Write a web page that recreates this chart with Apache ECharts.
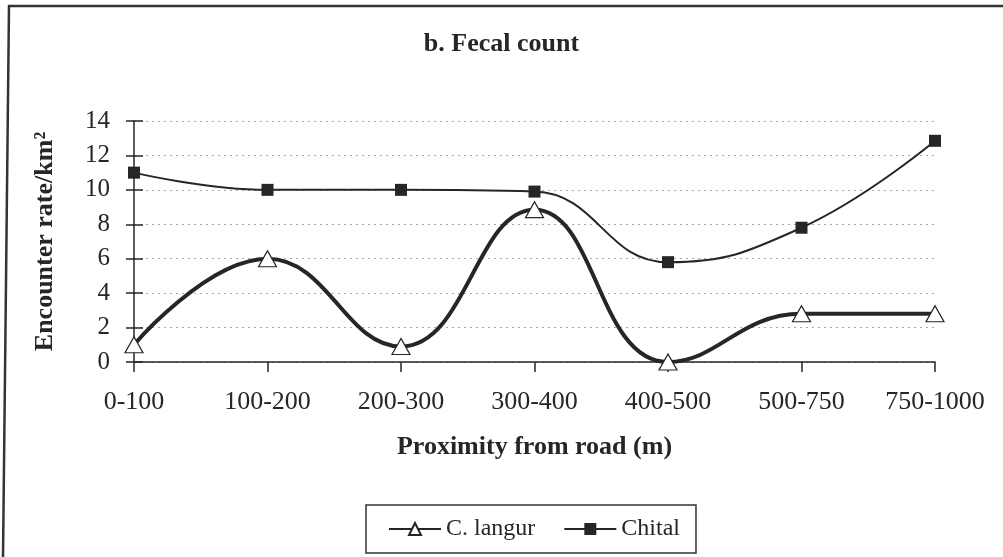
<!DOCTYPE html>
<html>
<head>
<meta charset="utf-8">
<script src="https://cdn.jsdelivr.net/npm/echarts@6/dist/echarts.min.js"></script>
<style>
  html, body { margin: 0; padding: 0; background: #fff; }
  #chart { width: 1003px; height: 557px; }
</style>
</head>
<body>
<div id="chart"></div>
<script>
// proximity classes (m)
const categories = ['0-100', '100-200', '200-300', '300-400', '400-500', '500-750', '750-1000'];
// encounter rate per km2
const langur = [1.0, 6.0, 0.9, 8.85, 0, 2.8, 2.8];
const chital = [11.0, 10.0, 10.0, 9.9, 5.8, 7.8, 12.85];

const serif = '"Liberation Serif", "DejaVu Serif", serif';
const ink = '#262626';

const chart = echarts.init(document.getElementById('chart'));

chart.setOption({
    animation: false,
    backgroundColor: '#fff',
    title: {
        text: 'b. Fecal count',
        left: 'center',
        top: 26,
        textStyle: { fontFamily: serif, fontSize: 26, fontWeight: 'bold', color: ink }
    },
    grid: { left: 134, right: 68, top: 121, bottom: 195 },
    legend: {
        bottom: 4,
        left: 366,
        padding: [12, 16, 12, 22],
        itemGap: 28,
        itemWidth: 52,
        itemHeight: 15,
        borderColor: '#333',
        borderWidth: 1.5,
        borderRadius: 0,
        textStyle: { fontFamily: serif, fontSize: 24, color: ink },
        data: ['C. langur', 'Chital']
    },
    xAxis: {
        type: 'category',
        data: categories,
        boundaryGap: false,
        name: 'Proximity from road (m)',
        nameLocation: 'middle',
        nameGap: 72,
        nameTextStyle: { fontFamily: serif, fontSize: 26, fontWeight: 'bold', color: ink },
        axisLine: { lineStyle: { color: ink, width: 1.5 } },
        axisTick: { alignWithLabel: true, length: 10, lineStyle: { color: ink, width: 1.5 } },
        axisLabel: { fontFamily: serif, fontSize: 26, color: ink, margin: 27 },
        splitLine: { show: false }
    },
    yAxis: [
        {
            type: 'value',
            min: 0,
            max: 14,
            interval: 2,
            name: 'Encounter rate/km²',
            nameLocation: 'middle',
            nameGap: 76,
            nameTextStyle: { fontFamily: serif, fontSize: 26, fontWeight: 'bold', color: ink },
            axisLine: { show: true, lineStyle: { color: ink, width: 1.5 } },
            axisTick: { show: true, length: 8, lineStyle: { color: ink, width: 1.5 } },
            axisLabel: { fontFamily: serif, fontSize: 25, color: ink, margin: 24 },
            splitLine: { lineStyle: { color: '#a8a8a8', type: [2, 4], width: 1 } }
        },
        {
            // inner half of the crossing tick marks
            type: 'value',
            position: 'left',
            min: 0,
            max: 14,
            interval: 2,
            axisLine: { show: false },
            axisTick: { show: true, inside: true, length: 9, lineStyle: { color: ink, width: 1.5 } },
            axisLabel: { show: false },
            splitLine: { show: false }
        }
    ],
    series: [
        {
            name: 'C. langur',
            type: 'line',
            data: langur,
            smooth: 0.45,
            clip: false,
            symbol: 'triangle',
            symbolSize: [18, 16],
            z: 3,
            lineStyle: { color: ink, width: 4 },
            itemStyle: { color: '#fff', borderColor: ink, borderWidth: 1.2 }
        },
        {
            name: 'Chital',
            type: 'line',
            data: chital,
            smooth: 0.45,
            clip: false,
            symbol: 'rect',
            symbolSize: 12,
            z: 3,
            lineStyle: { color: ink, width: 2 },
            itemStyle: { color: ink, borderColor: ink, borderWidth: 0 }
        }
    ],
    graphic: [
        {
            type: 'polyline',
            shape: { points: [[1003, 6], [9, 6], [3, 557]] },
            style: { stroke: '#333', lineWidth: 2.5, fill: null }
        }
    ]
});
</script>
</body>
</html>
